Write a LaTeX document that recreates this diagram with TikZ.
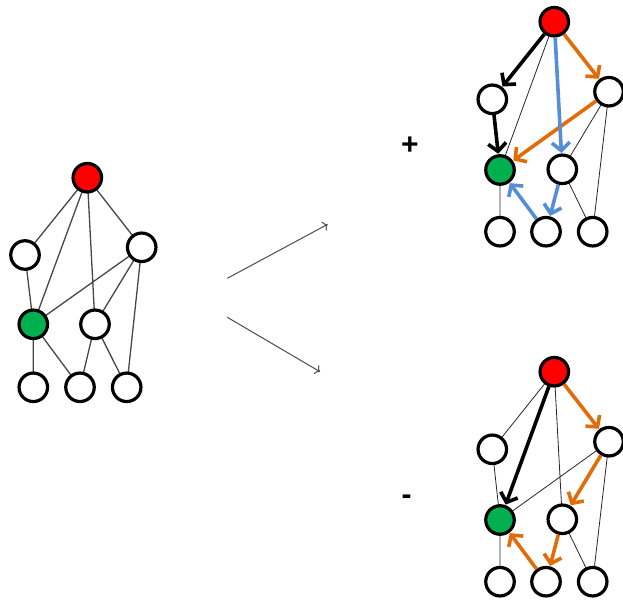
\documentclass[tikz,border=0pt]{standalone}
\usepackage{fontspec}
\setmainfont{Liberation Sans}
\usetikzlibrary{arrows.meta}
\definecolor{nodered}{HTML}{FF0000}
\definecolor{nodegreen}{HTML}{00B050}
\definecolor{pathorange}{HTML}{E36C0A}
\definecolor{pathblue}{HTML}{558ED5}
\tikzset{
  vtx/.style={circle, draw=black, line width=3.2pt, fill=white, minimum size=28.5pt, inner sep=0pt},
  src/.style={vtx, fill=nodered},
  dst/.style={vtx, fill=nodegreen},
  link/.style={draw=black!72, line width=1.3pt},
  flink/.style={draw=black!85, line width=0.8pt},
  flow/.style={line width=3.6pt, -{Straight Barb[length=8pt,width=18pt,line width=3.6pt]}, shorten >=0.5pt},
  move/.style={draw=black!70, line width=1pt, -{To[length=4.5pt,width=10pt]}},
  sign/.style={font=\bfseries\fontsize{30}{30}\selectfont, inner sep=0pt}
}
\begin{document}
\begin{tikzpicture}[x=1pt,y=-1pt]
\useasboundingbox (0,0) rectangle (623,602);

% ---------- plain graph ----------
\begin{scope}
\coordinate (r) at (87.3,177.7);
\coordinate (a) at (25,255);
\coordinate (b) at (141.7,247.3);
\coordinate (g) at (33.3,324.3);
\coordinate (m) at (95,324.3);
\coordinate (x) at (33.3,387.3);
\coordinate (y) at (80,387.3);
\coordinate (z) at (126.7,387.3);
\draw[link] (r)--(a) (r)--(g) (r)--(m) (r)--(b) (a)--(g)
  (b)--(g) (b)--(m) (b)--(z) (g)--(x) (g)--(y) (m)--(y) (m)--(z);
\node[src] (R0) at (r) {};
\node[vtx] (A0) at (a) {};
\node[vtx] (B0) at (b) {};
\node[dst] (G0) at (g) {};
\node[vtx] (M0) at (m) {};
\node[vtx] (X0) at (x) {};
\node[vtx] (Y0) at (y) {};
\node[vtx] (Z0) at (z) {};
\end{scope}

% ---------- transition arrows ----------
\coordinate (s1) at (227.3,278.3);
\coordinate (e1) at (327.7,224.3);
\coordinate (s2) at (227.3,317.3);
\coordinate (e2) at (320,371.7);
\draw[move] (s1) -- (e1);
\draw[move] (s2) -- (e2);

\node[sign] (plus) at (410,146) {+};
\node[sign] (minus) at (406.5,500) {-};

% ---------- positive case ----------
\begin{scope}
\coordinate (r) at (554.3,21.7);
\coordinate (a) at (492.3,99.3);
\coordinate (b) at (609,91.7);
\coordinate (g) at (500,170);
\coordinate (m) at (562.3,169.3);
\coordinate (x) at (500,231.7);
\coordinate (y) at (546,231.7);
\coordinate (z) at (592.7,231.7);
\draw[flink] (r)--(g) (b)--(m) (b)--(z) (g)--(x) (m)--(z);
\node[src] (R1) at (r) {};
\node[vtx] (A1) at (a) {};
\node[vtx] (B1) at (b) {};
\node[dst] (G1) at (g) {};
\node[vtx] (M1) at (m) {};
\node[vtx] (X1) at (x) {};
\node[vtx] (Y1) at (y) {};
\node[vtx] (Z1) at (z) {};
\draw[flow, black] (R1) -- (A1);
\draw[flow, black] (A1) -- (G1);
\draw[flow, pathorange] (R1) -- (B1);
\draw[flow, pathorange] (B1) -- (G1);
\draw[flow, pathblue] (R1) -- (M1);
\draw[flow, pathblue] (M1) -- (Y1);
\draw[flow, pathblue] (Y1) -- (G1);
\end{scope}

% ---------- negative case ----------
\begin{scope}
\coordinate (r) at (554.3,371.7);
\coordinate (a) at (492.3,449.3);
\coordinate (b) at (609,441.7);
\coordinate (g) at (500,520);
\coordinate (m) at (562.3,519.3);
\coordinate (x) at (500,581.7);
\coordinate (y) at (546,581.7);
\coordinate (z) at (592.7,581.7);
\draw[flink] (r)--(a) (r)--(m) (a)--(g) (b)--(g) (b)--(z) (g)--(x) (m)--(z);
\node[src] (R2) at (r) {};
\node[vtx] (A2) at (a) {};
\node[vtx] (B2) at (b) {};
\node[dst] (G2) at (g) {};
\node[vtx] (M2) at (m) {};
\node[vtx] (X2) at (x) {};
\node[vtx] (Y2) at (y) {};
\node[vtx] (Z2) at (z) {};
\draw[flow, black] (R2) -- (G2);
\draw[flow, pathorange] (R2) -- (B2);
\draw[flow, pathorange] (B2) -- (M2);
\draw[flow, pathorange] (M2) -- (Y2);
\draw[flow, pathorange] (Y2) -- (G2);
\end{scope}
\end{tikzpicture}
\end{document}
